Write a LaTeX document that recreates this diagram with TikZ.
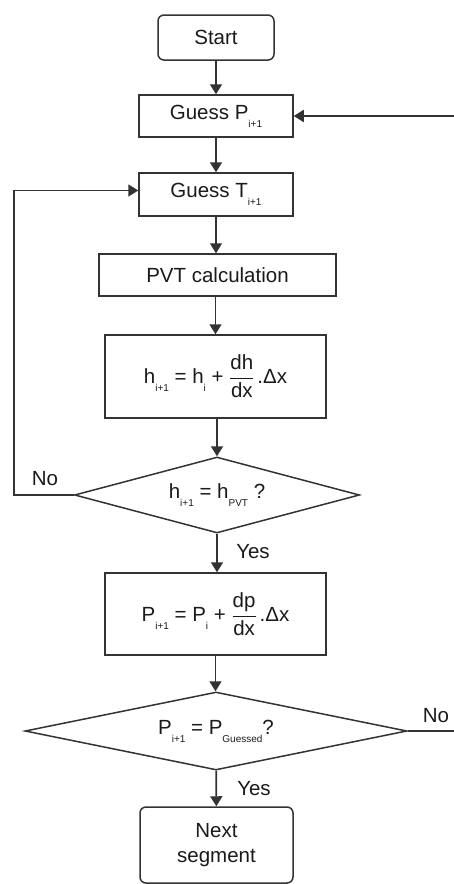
\documentclass[tikz,border=0pt]{standalone}
\usepackage{fontspec}
\setmainfont{Liberation Sans}
\usetikzlibrary{shapes.geometric,arrows.meta}
\newcommand\sbs[1]{\raisebox{-8pt}{\fontsize{10}{12}\selectfont #1}}
\newcommand\myfrac[2]{$\displaystyle\frac{\hbox{#1}}{\hbox{#2}}$}
\definecolor{linec}{HTML}{333333}
\definecolor{txtc}{HTML}{1A1A1A}
\begin{document}
\begin{tikzpicture}[x=1pt,y=-1pt,
  font=\fontsize{20.5}{25}\selectfont,
  box/.style={draw=linec, line width=1.5pt, inner sep=0pt, text=txtc, align=center},
  rbox/.style={box, rounded corners=6pt},
  dmd/.style={box, diamond, aspect=3.7},
  conn/.style={draw=linec, line width=1.8pt, -{Triangle[width=12pt,length=10pt]}},
  plain/.style={draw=linec, line width=1.8pt},
  lbl/.style={text=txtc, inner sep=0pt}]
\useasboundingbox (0,0) rectangle (454,884);

\node[rbox, minimum width=116pt, minimum height=45pt] (start) at (216,37.5) {Start};
\node[box, minimum width=154pt, minimum height=42pt] (gp) at (216,116) {Guess P\sbs{i+1}};
\node[box, minimum width=154pt, minimum height=43pt] (gt) at (216,194.5) {Guess T\sbs{i+1}};
\node[box, minimum width=237pt, minimum height=42pt] (pvt) at (217.5,275) {PVT calculation};
\node[box, minimum width=221pt, minimum height=83pt] (hb) at (215.5,376.5) {h\sbs{i+1} = h\sbs{i} + \myfrac{dh}{dx}\kern3pt.Δx};
\node[dmd, minimum width=285pt, minimum height=76pt] (d1) at (217,495) {h\sbs{i+1} = h\sbs{PVT} ?};
\node[box, minimum width=221pt, minimum height=82pt] (pb) at (215.5,614) {P\sbs{i+1} = P\sbs{i} + \myfrac{dp}{dx}\kern3pt.Δx};
\node[dmd, minimum width=382pt, minimum height=78pt] (d2) at (216,731) {P\sbs{i+1} = P\sbs{Guessed}?};
\node[rbox, minimum width=153pt, minimum height=76pt] (next) at (216.5,845) {Next\\segment};

\coordinate (rin) at (454,116);
\coordinate (rout) at (454,731);
\coordinate (lb) at (14,495);
\coordinate (lt) at (14,190.5);

\draw[conn] (start) -- (gp);
\draw[conn] (gp) -- (gt);
\draw[conn] (gt.south) -- (gt.south |- pvt.north);
\draw[conn] (pvt.south -| hb.north) -- (hb);
\draw[conn] (hb.south -| d1.north) -- (d1);
\draw[conn] (d1.south) -- (d1.south |- pb.north);
\draw[conn] (pb.south) -- (pb.south |- d2.north);
\draw[conn] (d2) -- (next);
\draw[conn] (d1.west) -- (lb) -- (lt) -- (lt -| gt.west);
\draw[conn] (rin) -- (gp.east);
\draw[plain] (d2.east) -- (rout);

\node[lbl] (no1) at (45,479) {No};
\node[lbl] (yes1) at (253,552) {Yes};
\node[lbl] (no2) at (436,716) {No};
\node[lbl] (yes2) at (254,789) {Yes};
\end{tikzpicture}
\end{document}
